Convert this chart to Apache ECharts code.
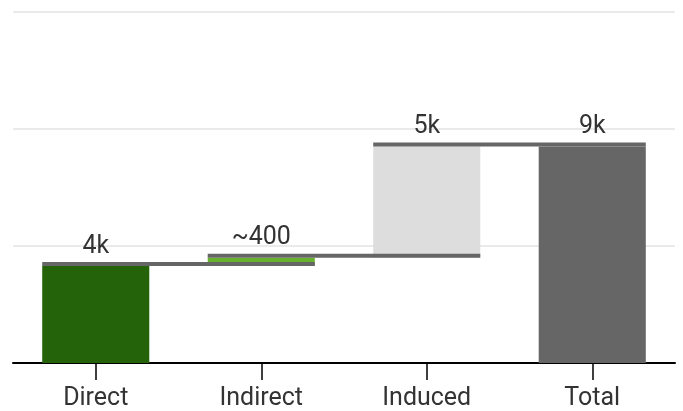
<!DOCTYPE html>
<html>
<head>
<meta charset="utf-8">
<script src="https://cdn.jsdelivr.net/npm/echarts@6/dist/echarts.min.js"></script>
<style>
  html, body { margin: 0; padding: 0; background: #fff; }
  #main { width: 683px; height: 411px; }
</style>
</head>
<body>
<div id="main"></div>
<script>
// 数据
var categories = ['Direct', 'Indirect', 'Induced', 'Total'];
var values = [4150, 350, 4750, 9250];
var valueLabels = ['4k', '~400', '5k', '9k'];

// 样式
var barColors = ['#24630a', '#66b22c', '#dddddd', '#666666'];
var capColor = '#666666';
var barRatio = 0.647;

// 瀑布图的底座（透明）和每一步的累计值
var base = [];
var cumulative = [];
var running = 0;
for (var i = 0; i < values.length; i++) {
  var isTotal = i === values.length - 1;
  base.push(isTotal ? 0 : running);
  if (!isTotal) running += values[i];
  cumulative.push(isTotal ? values[i] : running);
}

var capData = [];
for (var j = 0; j < values.length - 1; j++) {
  capData.push([j, cumulative[j]]);
}

var chart = echarts.init(document.getElementById('main'));

var option = {
  animation: false,
  textStyle: { fontFamily: 'Roboto' },
  grid: { left: 13, right: 8, top: 12, bottom: 47 },
  xAxis: {
    type: 'category',
    data: categories,
    axisLine: { lineStyle: { color: '#000', width: 2 } },
    axisTick: { show: true, alignWithLabel: true, length: 17, lineStyle: { color: '#000', width: 1.5 } },
    axisLabel: { color: '#333', fontSize: 25, margin: 23, fontFamily: 'Roboto' }
  },
  yAxis: {
    type: 'value',
    min: 0,
    max: 15000,
    interval: 5000,
    axisLabel: { show: false },
    axisLine: { show: false },
    axisTick: { show: false },
    splitLine: { lineStyle: { color: '#e3e3e3', width: 1.5 } }
  },
  series: [
    {
      type: 'bar',
      stack: 'w',
      barWidth: (barRatio * 100) + '%',
      itemStyle: { color: 'transparent' },
      data: base,
      silent: true
    },
    {
      type: 'bar',
      stack: 'w',
      barWidth: (barRatio * 100) + '%',
      data: values.map(function (v, k) {
        return { value: v, itemStyle: { color: barColors[k] } };
      }),
      label: {
        show: true,
        position: 'top',
        distance: 7,
        fontSize: 25,
        color: '#333',
        fontFamily: 'Roboto',
        formatter: function (p) { return valueLabels[p.dataIndex]; }
      }
    },
    {
      type: 'custom',
      z: 5,
      data: capData,
      renderItem: function (params, api) {
        var idx = api.value(0);
        var p0 = api.coord([idx, api.value(1)]);
        var p1 = api.coord([idx + 1, api.value(1)]);
        var w = api.size([1, 0])[0] * barRatio;
        return {
          type: 'rect',
          shape: { x: p0[0] - w / 2, y: p0[1] - 4, width: p1[0] - p0[0] + w, height: 4 },
          style: { fill: capColor }
        };
      }
    }
  ]
};

chart.setOption(option);
</script>
</body>
</html>
